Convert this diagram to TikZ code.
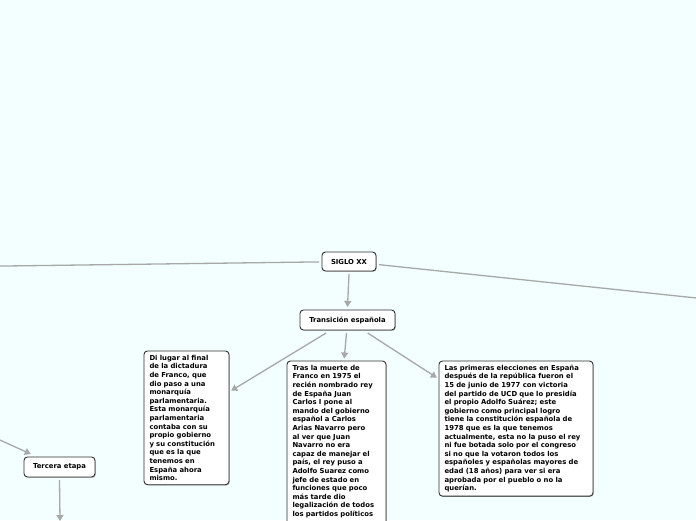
\documentclass[tikz,border=0pt]{standalone}
\usepackage{fontspec}
\setmainfont{DejaVu Sans}
\usetikzlibrary{arrows.meta,shadows,calc}
\definecolor{bgc}{HTML}{F2FFFE}
\definecolor{linec}{HTML}{A8A8A8}
\definecolor{boxborder}{HTML}{303030}
\begin{document}
\begin{tikzpicture}[x=1pt,y=-1pt,
  every node/.style={font=\fontsize{6.85}{8.6}\selectfont\bfseries},
  topic/.style={draw=boxborder,line width=0.9pt,fill=white,rounded corners=3.5pt,
    drop shadow={shadow xshift=0.8pt,shadow yshift=-0.8pt,fill=black!45,opacity=0.6},
    inner xsep=5pt,inner ysep=0pt,outer sep=3pt},
  textbox/.style={topic,align=left,inner xsep=5.5pt,inner ysep=4pt,anchor=north west,outer sep=0pt},
  conn/.style={draw=linec,line width=1.3pt},
  arr/.style={conn,-{Triangle[length=6pt,width=7pt]}},
  arrb/.style={arr,shorten >=2.5pt}]
\fill[bgc] (0,0) rectangle (696,520);
\useasboundingbox (0,0) rectangle (696,520);
\clip (0,0) rectangle (696,520);

\node[topic,minimum width=54pt,minimum height=19pt] (siglo) at (349,261.5) {SIGLO XX};
\node[topic,minimum width=95pt,minimum height=20pt] (trans) at (347.5,320) {Transición española};
\node[topic,minimum width=71pt,minimum height=20pt] (tercera) at (59.5,467) {Tercera etapa};

\node[textbox,text width=74pt] (left) at (144,351) {Di lugar al final\\de la dictadura\\de Franco, que\\dio paso a una\\monarquía\\parlamentaria.\\Esta monarquía\\parlamentaria\\contaba con su\\propio gobierno\\y su constitución\\que es la que\\tenemos en\\España ahora\\mismo.};

\node[textbox,text width=88pt] (mid) at (287,361) {Tras la muerte de\\Franco en 1975 el\\recién nombrado rey\\de España Juan\\Carlos I pone al\\mando del gobierno\\español a Carlos\\Arias Navarro pero\\al ver que Juan\\Navarro no era\\capaz de manejar el\\país, el rey puso a\\Adolfo Suarez como\\jefe de estado en\\funciones que poco\\más tarde dio\\legalización de todos\\los partidos políticos\\\strut\\\strut};

\node[textbox,text width=143pt] (right) at (439,361) {Las primeras elecciones en España\\después de la república fueron el\\15 de junio de 1977 con victoria\\del partido de UCD que lo presidía\\el propio Adolfo Suárez; este\\gobierno como principal logro\\tiene la constitución española de\\1978 que es la que tenemos\\actualmente, esta no la puso el rey\\ni fue botada solo por el congreso\\si no que la votaron todos los\\españoles y españolas mayores de\\edad (18 años) para ver si era\\aprobada por el pueblo o no la\\querían.};

\coordinate (offL) at (-10,266.2);
\coordinate (offR) at (706,299);
\coordinate (offT) at (-20,431);
\coordinate (offB) at (60,521);

\draw[conn] (siglo) -- (offL);
\draw[conn] (siglo) -- (offR);
\draw[arr] (siglo.south) -- (trans.north);
\draw[arrb] (trans) -- (left);
\draw[arrb] (trans) -- (right);
\draw[arrb] ($(trans.south)+(-1,0)$) -- ($(mid.north)+(7.5,0)$);
\draw[arr] (offT) -- (tercera);
\draw[arr] (tercera.south) -- (offB);
\end{tikzpicture}
\end{document}
